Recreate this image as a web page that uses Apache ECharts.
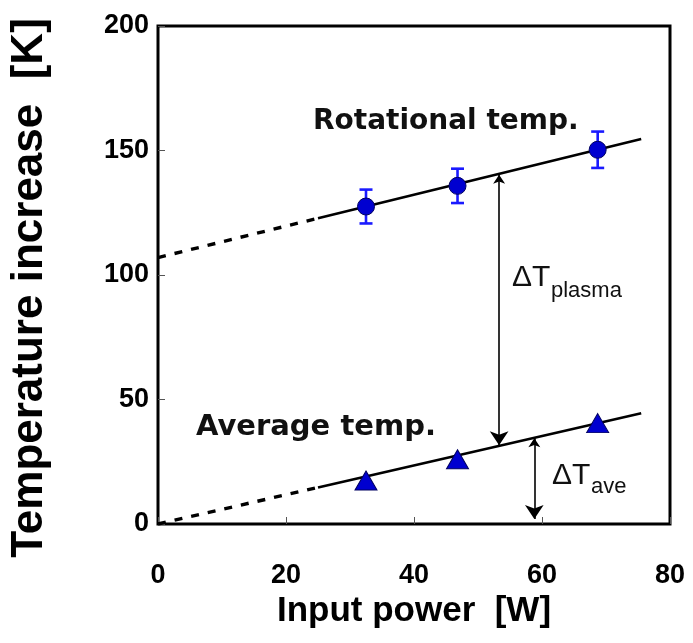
<!DOCTYPE html>
<html>
<head>
<meta charset="utf-8">
<script src="https://cdn.jsdelivr.net/npm/echarts@6/dist/echarts.min.js"></script>
<style>
  html, body { margin: 0; padding: 0; background: #fff; }
  #chart { width: 693px; height: 643px; }
</style>
</head>
<body>
<div id="chart"></div>
<script>
// Input power [W] of the three measurements
const powerW = [32.5, 46.8, 68.7];
// Rotational temperature rise [K] with its error half-width
const rotationalTemp = [127.5, 135.8, 150.3];
const rotationalErr = [6.8, 6.9, 7.3];
// Average temperature rise [K]
const averageTemp = [17.5, 26.0, 40.5];

// Linear fits: solid over the measured range, dashed extrapolation to 0 W
const rotFitSolid = [[25, 122.8], [75.5, 154.6]];
const rotFitDashed = [[0, 107.0], [25, 122.8]];
const aveFitSolid = [[25, 14.7], [75.5, 44.5]];
const aveFitDashed = [[0, 0.0], [25, 14.7]];

// Double arrows marking the two temperature differences
const plasmaArrow = [[53.3, 140.3], [53.3, 31.6]];
const aveArrow = [[58.8, 34.4], [58.8, 2.0]];

const xMin = 0, xMax = 80, xStep = 20;
const yMin = 0, yMax = 200, yStep = 50;

const chart = echarts.init(document.getElementById('chart'), null, { renderer: 'canvas' });

const sans = '"Liberation Sans", Arial, sans-serif';
const wide = '"DejaVu Sans", sans-serif';
const blue = '#0000d0';

const rotPoints = powerW.map((x, i) => [x, rotationalTemp[i]]);
const avePoints = powerW.map((x, i) => [x, averageTemp[i]]);
const errData = powerW.map((x, i) => [x, rotationalTemp[i] - rotationalErr[i], rotationalTemp[i] + rotationalErr[i]]);

function fitLine(data, dashed) {
  return {
    type: 'line', data, symbol: 'none', silent: true, z: 3,
    lineStyle: { color: '#000', width: dashed ? 3.4 : 2.6, type: dashed ? [8, 9] : 'solid', cap: 'butt' }
  };
}

function arrow(coords) {
  return {
    type: 'lines', coordinateSystem: 'cartesian2d', silent: true, z: 4,
    symbol: ['arrow', 'arrow'], symbolSize: [9, 14],
    lineStyle: { color: '#000', width: 1.6, opacity: 1, curveness: 0 },
    data: [{ coords }]
  };
}

const option = {
  animation: false,
  backgroundColor: '#fff',
  grid: { left: 154, right: 23, top: 26, bottom: 119, show: true, borderColor: '#000', borderWidth: 3, backgroundColor: 'transparent' },
  xAxis: {
    type: 'value', min: xMin, max: xMax, interval: xStep,
    name: 'Input power  [W]', nameLocation: 'middle', nameGap: 70,
    nameTextStyle: { fontFamily: sans, fontWeight: 'bold', fontSize: 35, color: '#000' },
    axisLine: { show: false },
    axisTick: { show: true, inside: true, length: 7, lineStyle: { color: '#555', width: 1 } },
    axisLabel: { margin: 38, fontFamily: sans, fontWeight: 'bold', fontSize: 27, color: '#000' },
    splitLine: { show: false }
  },
  yAxis: {
    type: 'value', min: yMin, max: yMax, interval: yStep,
    name: 'Temperature increase  [K]', nameLocation: 'middle', nameGap: 106,
    nameTextStyle: { fontFamily: sans, fontWeight: 'bold', fontSize: 44, color: '#000', padding: [0, 26, 0, 0] },
    axisLine: { show: false },
    axisTick: { show: true, inside: true, length: 7, lineStyle: { color: '#555', width: 1 } },
    axisLabel: { margin: 9, fontFamily: sans, fontWeight: 'bold', fontSize: 27, color: '#000' },
    splitLine: { show: false }
  },
  series: [
    fitLine(rotFitDashed, true),
    fitLine(rotFitSolid, false),
    fitLine(aveFitDashed, true),
    fitLine(aveFitSolid, false),
    arrow(plasmaArrow),
    arrow(aveArrow),
    {
      type: 'custom', z: 5, silent: true, data: errData,
      renderItem(params, api) {
        const top = api.coord([api.value(0), api.value(2)]);
        const bot = api.coord([api.value(0), api.value(1)]);
        const cap = 6.5;
        const style = { stroke: '#1a1aff', lineWidth: 2.6 };
        return {
          type: 'group', children: [
            { type: 'line', shape: { x1: top[0], y1: top[1], x2: bot[0], y2: bot[1] }, style },
            { type: 'line', shape: { x1: top[0] - cap, y1: top[1], x2: top[0] + cap, y2: top[1] }, style },
            { type: 'line', shape: { x1: bot[0] - cap, y1: bot[1], x2: bot[0] + cap, y2: bot[1] }, style }
          ]
        };
      }
    },
    {
      type: 'scatter', z: 6, silent: true, data: rotPoints, symbol: 'circle', symbolSize: 17,
      itemStyle: { color: blue, borderColor: '#000060', borderWidth: 1, opacity: 1 }
    },
    {
      type: 'scatter', z: 6, silent: true, data: avePoints, symbol: 'triangle', symbolSize: [22, 19],
      itemStyle: { color: blue, borderColor: '#000060', borderWidth: 1, opacity: 1 }
    }
  ],
  graphic: [
    { type: 'text', left: 313, top: 108, silent: true,
      style: { text: 'Rotational temp.', font: 'bold 28px ' + wide, fill: '#111' } },
    { type: 'text', left: 196, top: 413, silent: true,
      style: { text: 'Average temp.', font: 'bold 29px ' + wide, fill: '#111' } },
    { type: 'text', left: 512, top: 263, silent: true,
      style: { text: 'ΔT', font: '30px ' + sans, fill: '#111' } },
    { type: 'text', left: 551, top: 280, silent: true,
      style: { text: 'plasma', font: '22px ' + sans, fill: '#111' } },
    { type: 'text', left: 552, top: 461, silent: true,
      style: { text: 'ΔT', font: '30px ' + sans, fill: '#111' } },
    { type: 'text', left: 591, top: 476, silent: true,
      style: { text: 'ave', font: '22px ' + sans, fill: '#111' } }
  ]
};

chart.setOption(option);
</script>
</body>
</html>
